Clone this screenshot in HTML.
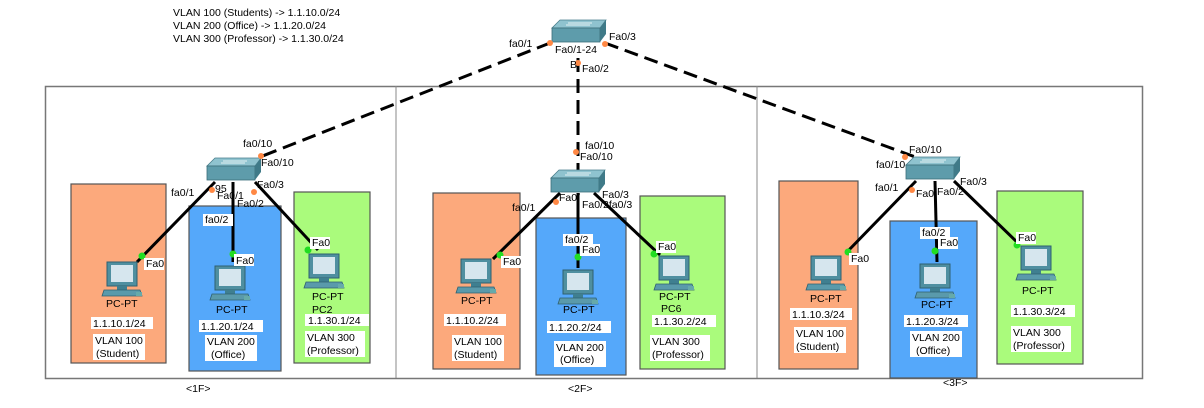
<!DOCTYPE html>
<html><head><meta charset="utf-8"><style>
html,body{margin:0;padding:0;background:#fff;}
svg{display:block;font-family:"Liberation Sans",sans-serif;}
.t{font-size:10.5px;fill:#000;}
</style></head><body>
<svg width="1204" height="408" viewBox="0 0 1204 408" xmlns="http://www.w3.org/2000/svg">
<defs>
<g id="pc">
 <rect x="3" y="0" width="30" height="24" fill="#4f8fa0" stroke="#2f6070" stroke-width="1"/>
 <rect x="7" y="3" width="22" height="17" fill="#d6e6ee"/>
 <rect x="13" y="24" width="10" height="4" fill="#3f7f90"/>
 <polygon points="0,28 36,28 38,34 -2,34" fill="#5a9aab" stroke="#2f6070" stroke-width="0.8"/>
 <rect x="32" y="30" width="6" height="4" fill="#6aa"/>
</g>
<g id="sw">
 <polygon points="8,0 54,0 48,8 0,8" fill="#8fc3cf" stroke="#4a7f8c" stroke-width="0.8"/>
 <rect x="0" y="8" width="48" height="14" fill="#5e9cab" stroke="#3b6e7a" stroke-width="0.8"/>
 <polygon points="48,8 54,0 54,14 48,22" fill="#3f7a88"/>
 <line x1="16" y1="3" x2="40" y2="3" stroke="#fff" stroke-width="0.8"/>
 <line x1="14" y1="5" x2="38" y2="5" stroke="#fff" stroke-width="0.8"/>
</g>
</defs>

<text class="t" x="173" y="16">VLAN 100 (Students)  -&gt; 1.1.10.0/24</text>
<text class="t" x="173" y="29">VLAN 200 (Office)      -&gt; 1.1.20.0/24</text>
<text class="t" x="173" y="42">VLAN 300 (Professor) -&gt; 1.1.30.0/24</text>

<rect x="45.5" y="86.5" width="1097" height="292" fill="none" stroke="#777" stroke-width="1.5"/>
<line x1="396" y1="86" x2="396" y2="378" stroke="#888"/>
<line x1="757" y1="86" x2="757" y2="378" stroke="#888"/>
<text class="t" x="186" y="392">&lt;1F&gt;</text>
<text class="t" x="568" y="392">&lt;2F&gt;</text>
<text class="t" x="943" y="386">&lt;3F&gt;</text>

<g stroke="#555" stroke-width="1.2">
<rect x="71" y="184" width="95" height="179" fill="#fca97c"/>
<rect x="189" y="206" width="92" height="165" fill="#55a8fa"/>
<rect x="294" y="192" width="76" height="171" fill="#aafb7c"/>
<rect x="433" y="193" width="87" height="176" fill="#fca97c"/>
<rect x="536" y="218" width="90" height="157" fill="#55a8fa"/>
<rect x="640" y="196" width="85" height="173" fill="#aafb7c"/>
<rect x="779" y="181" width="79" height="188" fill="#fca97c"/>
<rect x="890" y="221" width="87" height="157" fill="#55a8fa"/>
<rect x="997" y="191" width="86" height="173" fill="#aafb7c"/>
</g>

<g stroke="#000" stroke-width="3" stroke-dasharray="14,7" fill="none">
<line x1="550" y1="43" x2="260" y2="157"/>
<line x1="578" y1="58" x2="578" y2="170"/>
<line x1="605" y1="43" x2="918" y2="158"/>
</g>

<g stroke="#000" stroke-width="3">
<line x1="215" y1="182" x2="137" y2="262"/>
<line x1="233" y1="182" x2="233" y2="262"/>
<line x1="255" y1="182" x2="318" y2="250"/>
<line x1="560" y1="193" x2="493" y2="259"/>
<line x1="578" y1="193" x2="578" y2="268"/>
<line x1="594" y1="193" x2="660" y2="255"/>
<line x1="916" y1="181" x2="846" y2="253"/>
<line x1="935" y1="181" x2="937" y2="262"/>
<line x1="954" y1="181" x2="1018" y2="243"/>
</g>

<use href="#sw" x="552" y="20"/>
<use href="#sw" x="207" y="158"/>
<use href="#sw" x="551" y="170"/>
<use href="#sw" x="906" y="157"/>

<use href="#pc" x="104" y="262"/>
<use href="#pc" x="212" y="266"/>
<use href="#pc" x="306" y="254"/>
<use href="#pc" x="458" y="259"/>
<use href="#pc" x="560" y="270"/>
<use href="#pc" x="656" y="256"/>
<use href="#pc" x="808" y="256"/>
<use href="#pc" x="917" y="264"/>
<use href="#pc" x="1018" y="246"/>

<g fill="#ff8844">
<circle cx="550" cy="43" r="3"/><circle cx="605" cy="44" r="3"/><circle cx="578" cy="63" r="3"/>
<circle cx="261" cy="156" r="3"/><circle cx="212" cy="190" r="3"/><circle cx="254" cy="192" r="3"/>
<circle cx="576" cy="152" r="3"/><circle cx="556" cy="202" r="3"/>
<circle cx="905" cy="157" r="3"/><circle cx="912" cy="190" r="3"/>
</g>
<g fill="#22dd22">
<circle cx="142" cy="256" r="3.5"/><circle cx="233" cy="254" r="3.5"/><circle cx="308" cy="250" r="3.5"/>
<circle cx="500" cy="255" r="3.5"/><circle cx="578" cy="257" r="3.5"/><circle cx="654" cy="254" r="3.5"/>
<circle cx="848" cy="252" r="3.5"/><circle cx="935" cy="251" r="3.5"/><circle cx="1017" cy="245" r="3.5"/>
</g>

<!-- white label backgrounds -->
<g fill="#fff">
<rect x="91" y="317" width="62" height="12"/><rect x="199" y="320" width="64" height="12"/><rect x="305" y="314" width="64" height="12"/>
<rect x="444" y="314" width="62" height="12"/><rect x="547" y="321" width="64" height="12"/><rect x="652" y="315" width="64" height="12"/>
<rect x="790" y="308" width="62" height="12"/><rect x="904" y="315" width="64" height="12"/><rect x="1011" y="305" width="64" height="12"/>
<rect x="93" y="334" width="52" height="26"/><rect x="205" y="335" width="52" height="26"/><rect x="305" y="331" width="60" height="26"/>
<rect x="452" y="335" width="52" height="26"/><rect x="554" y="341" width="52" height="26"/><rect x="650" y="335" width="60" height="26"/>
<rect x="794" y="327" width="52" height="26"/><rect x="910" y="331" width="52" height="26"/><rect x="1011" y="326" width="60" height="26"/>
<rect x="144" y="258" width="20" height="12"/><rect x="234" y="254" width="20" height="12"/><rect x="310" y="237" width="20" height="12"/>
<rect x="501" y="256" width="20" height="12"/><rect x="580" y="244" width="20" height="12"/><rect x="656" y="241" width="20" height="12"/>
<rect x="849" y="253" width="20" height="12"/><rect x="938" y="237" width="20" height="12"/><rect x="1016" y="232" width="20" height="12"/>
<rect x="203" y="214" width="30" height="12"/><rect x="563" y="234" width="30" height="12"/><rect x="920" y="227" width="30" height="12"/>
</g>

<g class="t">
<text x="509" y="47">fa0/1</text><text x="555" y="53">Fa0/1-24</text><text x="609" y="40">Fa0/3</text>
<text x="570" y="68">B</text><text x="582" y="72">Fa0/2</text>
<text x="243" y="147">fa0/10</text><text x="261" y="166">Fa0/10</text>
<text x="171" y="196">fa0/1</text><text x="215" y="192">95</text><text x="217" y="199">Fa0/1</text><text x="257" y="188">Fa0/3</text>
<text x="237" y="207">Fa0/2</text><text x="205" y="223">fa0/2</text>
<text x="146" y="267">Fa0</text><text x="236" y="264">Fa0</text><text x="312" y="246">Fa0</text>
<text x="585" y="149">fa0/10</text><text x="580" y="160">Fa0/10</text>
<text x="512" y="211">fa0/1</text><text x="559" y="201">Fa0/</text><text x="602" y="198">Fa0/3</text><text x="582" y="208">Fa0/2fa0/3</text>
<text x="565" y="243">fa0/2</text><text x="582" y="253">Fa0</text>
<text x="503" y="265">Fa0</text><text x="658" y="250">Fa0</text>
<text x="909" y="153">Fa0/10</text><text x="876" y="168">fa0/10</text>
<text x="875" y="191">fa0/1</text><text x="916" y="197">Fa0</text><text x="937" y="195">Fa0/2</text><text x="960" y="185">Fa0/3</text>
<text x="922" y="236">fa0/2</text><text x="940" y="246">Fa0</text>
<text x="851" y="262">Fa0</text><text x="1018" y="241">Fa0</text>
</g>

<g class="t">
<text x="106" y="307">PC-PT</text><text x="93" y="327">1.1.10.1/24</text>
<text x="216" y="313">PC-PT</text><text x="201" y="330">1.1.20.1/24</text>
<text x="312" y="300">PC-PT</text><text x="312" y="313">PC2</text><text x="308" y="324">1.1.30.1/24</text>
<text x="461" y="304">PC-PT</text><text x="446" y="324">1.1.10.2/24</text>
<text x="563" y="313">PC-PT</text><text x="549" y="331">1.1.20.2/24</text>
<text x="659" y="300">PC-PT</text><text x="661" y="312">PC6</text><text x="654" y="325">1.1.30.2/24</text>
<text x="810" y="302">PC-PT</text><text x="792" y="318">1.1.10.3/24</text>
<text x="921" y="308">PC-PT</text><text x="906" y="325">1.1.20.3/24</text>
<text x="1022" y="294">PC-PT</text><text x="1013" y="315">1.1.30.3/24</text>
</g>
<g class="t">
<text x="95" y="344">VLAN 100</text><text x="96" y="357">(Student)</text>
<text x="207" y="345">VLAN 200</text><text x="211" y="358">(Office)</text>
<text x="307" y="341">VLAN 300</text><text x="307" y="354">(Professor)</text>
<text x="454" y="345">VLAN 100</text><text x="454" y="358">(Student)</text>
<text x="556" y="351">VLAN 200</text><text x="560" y="363">(Office)</text>
<text x="652" y="345">VLAN 300</text><text x="652" y="358">(Professor)</text>
<text x="796" y="337">VLAN 100</text><text x="796" y="350">(Student)</text>
<text x="912" y="341">VLAN 200</text><text x="916" y="354">(Office)</text>
<text x="1013" y="336">VLAN 300</text><text x="1013" y="349">(Professor)</text>
</g>
</svg>
</body></html>
